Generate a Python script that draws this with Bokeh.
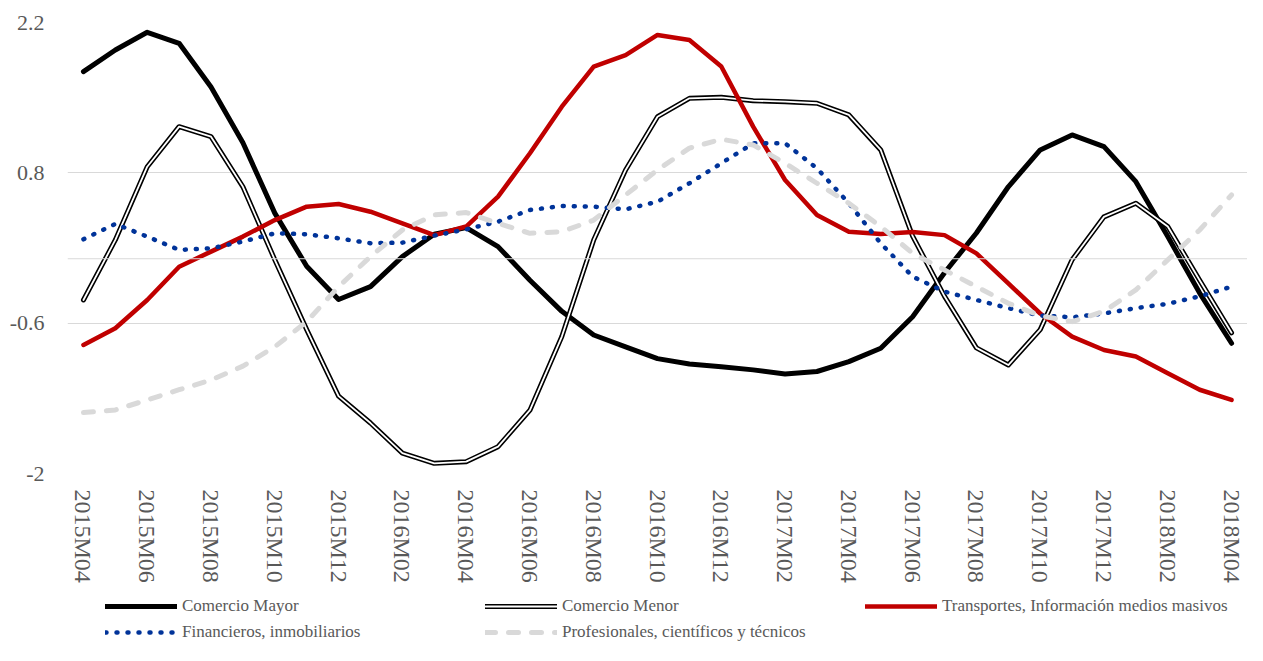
from bokeh.plotting import figure
from bokeh.layouts import column
from bokeh.models import FixedTicker, Span, Legend, LegendItem, Range1d
from bokeh.embed import file_html
from bokeh.resources import INLINE

months = []
for yr in (2015, 2016, 2017, 2018):
    for m in range(1, 13):
        months.append(f"{yr}M{m:02d}")
months = months[months.index("2015M04"):months.index("2018M04") + 1]

comercio_mayor = [1.742, 1.944, 2.109, 2.006, 1.60, 1.08, 0.425, -0.07, -0.38, -0.26,
                  0.02, 0.228, 0.29, 0.113, -0.20, -0.49, -0.71, -0.82, -0.93, -0.98,
                  -1.005, -1.035, -1.073, -1.05, -0.958, -0.833, -0.54, -0.13, 0.24, 0.67,
                  1.013, 1.153, 1.044, 0.718, 0.206, -0.32, -0.787]
comercio_menor = [-0.384, 0.175, 0.857, 1.23, 1.137, 0.67, -0.01, -0.66, -1.28, -1.53,
                  -1.81, -1.905, -1.89, -1.75, -1.41, -0.725, 0.175, 0.827, 1.323, 1.494,
                  1.503, 1.472, 1.463, 1.448, 1.339, 1.013, 0.21, -0.35, -0.83, -0.99,
                  -0.66, -0.01, 0.39, 0.517, 0.30, -0.2, -0.69]
transportes = [-0.803, -0.647, -0.384, -0.074, 0.066, 0.206, 0.36, 0.485, 0.51, 0.438,
               0.33, 0.22, 0.30, 0.578, 0.982, 1.416, 1.79, 1.897, 2.084, 2.037,
               1.79, 1.23, 0.733, 0.408, 0.252, 0.23, 0.25, 0.22, 0.05, -0.23,
               -0.51, -0.725, -0.85, -0.91, -1.066, -1.22, -1.315]
financieros = [0.181, 0.324, 0.206, 0.082, 0.097, 0.16, 0.237, 0.228, 0.19, 0.144,
               0.15, 0.215, 0.274, 0.345, 0.454, 0.491, 0.485, 0.46, 0.531, 0.703,
               0.889, 1.075, 1.075, 0.842, 0.517, 0.144, -0.167, -0.306, -0.384, -0.46,
               -0.53, -0.545, -0.51, -0.46, -0.42, -0.35, -0.26]
profesionales = [-1.433, -1.408, -1.315, -1.22, -1.13, -1.0, -0.82, -0.586, -0.26, 0.02,
                 0.268, 0.408, 0.43, 0.33, 0.237, 0.252, 0.36, 0.594, 0.827, 1.03,
                 1.113, 1.06, 0.889, 0.703, 0.517, 0.30, 0.05, -0.105, -0.26, -0.415,
                 -0.53, -0.586, -0.49, -0.29, -0.01, 0.268, 0.594]

series_names = ["Comercio Mayor", "Comercio Menor", "Transportes, Información medios masivos",
                "Financieros, inmobiliarios", "Profesionales, científicos y técnicos"]

y_ticks = [-2, -0.6, 0.8, 2.2]
y_labels = ["-2", "-0.6", "0.8", "2.2"]

x = list(range(len(months)))
FONT = "Liberation Serif"
TXT = "#595959"
GRID = "#d9d9d9"

STYLES = [
    [dict(line_color="black", line_width=5)],
    [dict(line_color="black", line_width=5), dict(line_color="white", line_width=1.8)],
    [dict(line_color="#C00000", line_width=4.5)],
    [dict(line_color="#003399", line_width=4.5, line_dash="1 10")],
    [dict(line_color="#D9D9D9", line_width=5, line_dash="10 13")],
]

W = 1247
p = figure(width=W, height=590, output_backend="svg", toolbar_location=None,
           x_range=Range1d(-0.5, len(months) - 0.5), y_range=Range1d(-2, 2.2),
           min_border_left=67, min_border_right=0, min_border_top=22, min_border_bottom=117)
p.outline_line_color = None
p.background_fill_color = "white"
p.border_fill_color = "white"

p.xgrid.visible = False
p.ygrid.ticker = FixedTicker(ticks=y_ticks)
p.ygrid.grid_line_color = GRID
p.ygrid.grid_line_width = 1
p.add_layout(Span(location=0, dimension="width", line_color=GRID, line_width=1))

p.yaxis.ticker = FixedTicker(ticks=y_ticks)
p.yaxis.major_label_overrides = {t: l for t, l in zip(y_ticks, y_labels)}
p.yaxis.axis_line_color = None
p.yaxis.major_tick_line_color = None
p.yaxis.minor_tick_line_color = None
p.yaxis.major_tick_out = 0
p.yaxis.major_label_standoff = 23
p.yaxis.major_label_text_font = FONT
p.yaxis.major_label_text_font_size = "22px"
p.yaxis.major_label_text_color = TXT

p.xaxis.ticker = FixedTicker(ticks=x[::2])
p.xaxis.major_label_overrides = {i: months[i] for i in x[::2]}
p.xaxis.major_label_orientation = "vertical"
p.xaxis.axis_line_color = None
p.xaxis.major_tick_line_color = None
p.xaxis.minor_tick_line_color = None
p.xaxis.major_tick_out = 0
p.xaxis.major_label_standoff = 16
p.xaxis.major_label_text_font = FONT
p.xaxis.major_label_text_font_size = "24px"
p.xaxis.major_label_text_color = TXT

all_series = [comercio_mayor, comercio_menor, transportes, financieros, profesionales]
for ys, styles in zip(all_series, STYLES):
    for st in styles:
        p.line(x, ys, line_join="round", line_cap="round", **st)

# legend strip (same series, drawn outside its visible range so only the legend shows)
lg = figure(width=W, height=55, output_backend="svg", toolbar_location=None,
            x_range=Range1d(-0.5, len(months) - 0.5), y_range=Range1d(100, 101),
            x_axis_type=None, y_axis_type=None, min_border=0)
lg.outline_line_color = None
lg.xgrid.visible = False
lg.ygrid.visible = False
items = []
for name, ys, styles in zip(series_names, all_series, STYLES):
    rs = [lg.line(x, ys, line_join="round", line_cap="round", **st) for st in styles]
    items.append(LegendItem(label=name, renderers=rs))

legend = Legend(items=items, location=(38, 0), ncols=3, orientation="horizontal")
legend.glyph_width = 72
legend.glyph_height = 26
legend.label_height = 26
legend.label_width = 303
legend.label_standoff = 5
legend.spacing = 0
legend.padding = 0
legend.margin = 0
legend.border_line_color = None
legend.background_fill_alpha = 0
legend.label_text_font = FONT
legend.label_text_font_size = "17px"
legend.label_text_color = TXT
lg.add_layout(legend, "center")

layout = column(p, lg, spacing=0)
open("out.html", "w").write(file_html(layout, INLINE))
